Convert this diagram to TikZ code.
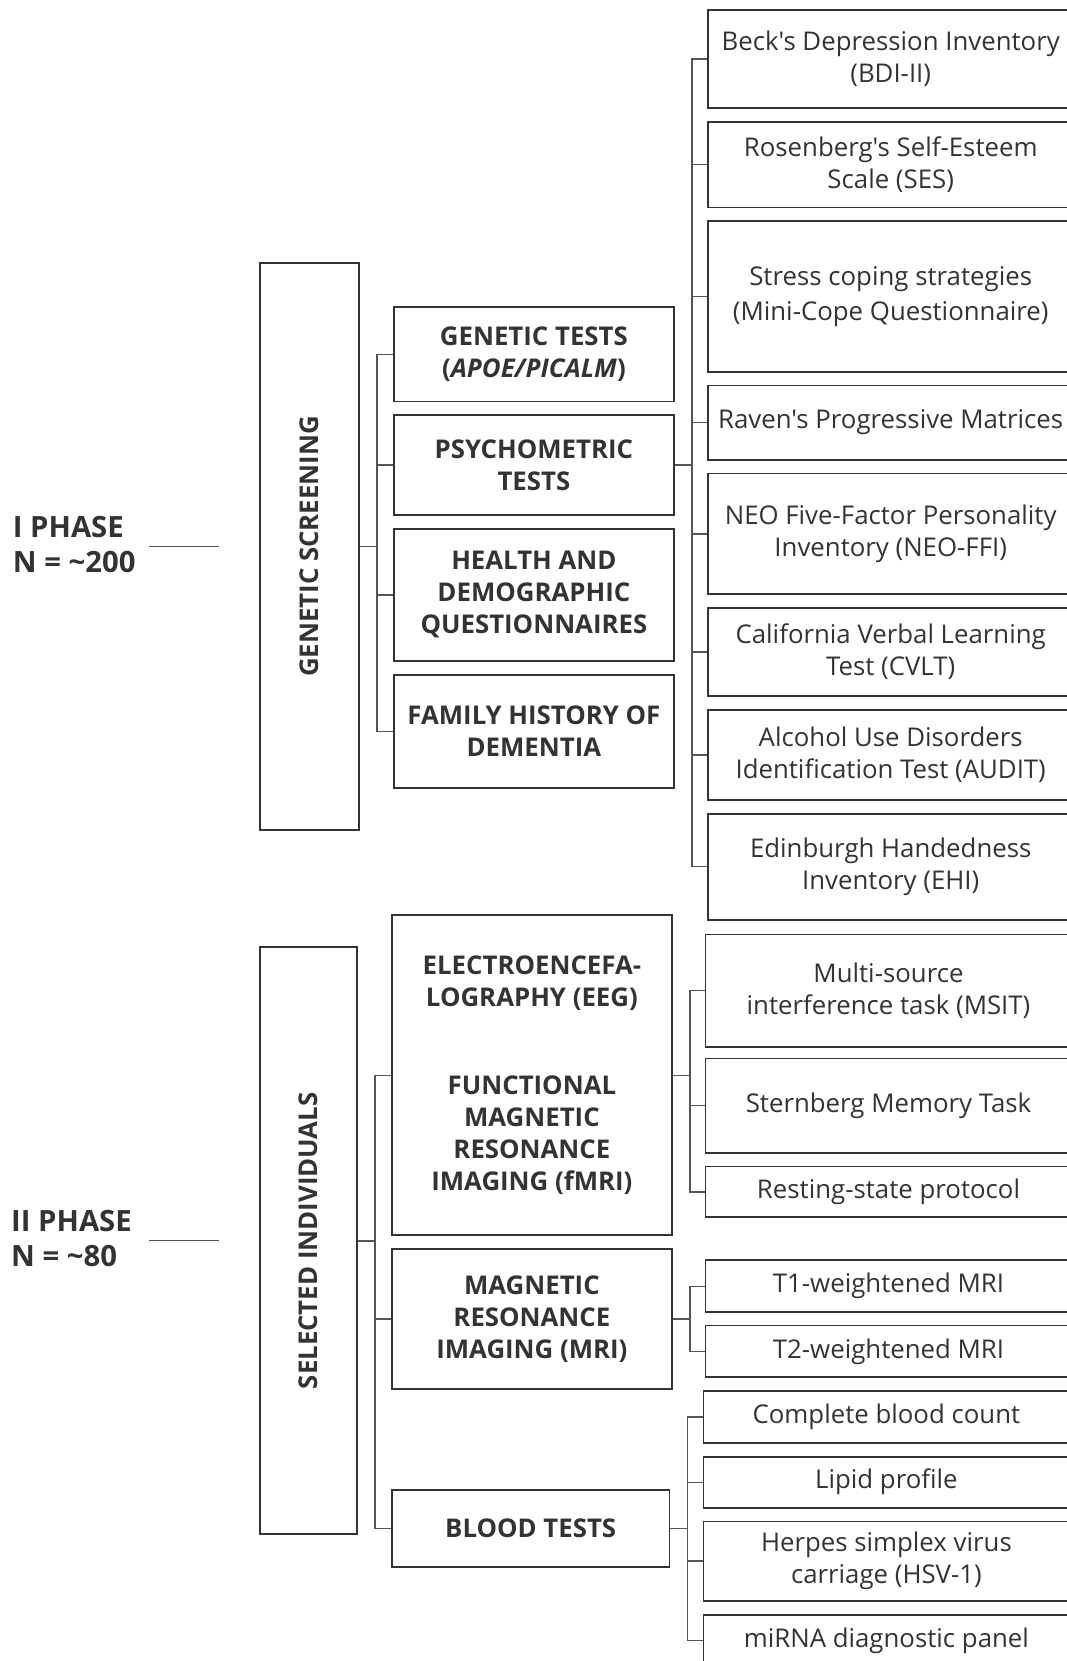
\documentclass[tikz,border=0pt]{standalone}
\usepackage{fontspec}
\newfontfamily\osans{Open Sans}
\usetikzlibrary{positioning}
\definecolor{ink}{HTML}{333333}
\definecolor{wire}{HTML}{555555}
\tikzset{
  box/.style={draw=ink, line width=1.8pt, text=ink, align=center, inner sep=0pt, anchor=north west},
  bigbox/.style={draw=ink, line width=1.8pt, inner sep=0pt},
  headbox/.style={box, minimum width=280pt, font=\osans\bfseries\fontsize{25.8}{32}\selectfont},
  testbox/.style={box, minimum width=366pt, font=\osans\fontsize{25.8}{32}\selectfont},
  sidetext/.style={text=ink, font=\osans\bfseries\fontsize{25.8}{32}\selectfont},
  phase/.style={text=ink, align=left, anchor=west, inner sep=0pt, font=\osans\bfseries\fontsize{29.3}{35}\selectfont},
  conn/.style={draw=wire, line width=1.4pt},
  tie/.style={draw=wire, line width=1.2pt},
}
\begin{document}
\begin{tikzpicture}[x=1pt,y=-1pt]
\useasboundingbox (0,0) rectangle (1066,1661);
% phase I
\node[phase] (ph1) at (12.7,544.5) {I PHASE\\N = \textasciitilde200};
\node[bigbox, minimum width=99pt, minimum height=567pt] (gs) at (309.5,546.5) {};
\node[sidetext, rotate=90] (gstext) at (gs.center) {GENETIC SCREENING};
\node[headbox, minimum height=94.3pt] (gen) at (393,306.2) {GENETIC TESTS\\(\textit{APOE/PICALM})};
\node[headbox, minimum height=99.6pt] (psy) at (393,414.3) {PSYCHOMETRIC\\TESTS};
\node[headbox, minimum height=132.4pt] (hea) at (393,527.7) {HEALTH AND\\DEMOGRAPHIC\\QUESTIONNAIRES};
\node[headbox, minimum height=113.4pt] (fam) at (393,673.9) {FAMILY HISTORY OF\\DEMENTIA};
\node[testbox, minimum height=97.5pt] (bdi) at (706.8,9.5) {Beck's Depression Inventory\\(BDI-II)};
\node[testbox, minimum height=85.8pt] (ses) at (706.8,120.8) {Rosenberg's Self-Esteem\\Scale (SES)};
\node[testbox, minimum height=150.5pt] (str) at (706.8,220.4) {Stress coping strategies\\[3pt](Mini-Cope Questionnaire)};
\node[testbox, minimum height=74.2pt] (rav) at (706.8,384.6) {Raven's Progressive Matrices};
\node[testbox, minimum height=120.8pt] (neo) at (706.8,472.6) {NEO Five-Factor Personality\\Inventory (NEO-FFI)};
\node[testbox, minimum height=88pt] (cvl) at (706.8,607.1) {California Verbal Learning\\Test (CVLT)};
\node[testbox, minimum height=90pt] (aud) at (706.8,708.9) {Alcohol Use Disorders\\Identification Test (AUDIT)};
\node[testbox, minimum height=106pt] (ehi) at (706.8,812.7) {Edinburgh Handedness\\Inventory (EHI)};
\draw[tie] ([xshift=-40pt]gs.west) -- ++(-70,0);
\draw[conn] (gs.east) -- ++(17,0) coordinate (b1);
\draw[conn] (gen.west) -| (b1) |- (fam.west);
\foreach \n in {psy,hea}
  \draw[conn] (b1 |- \n.west) -- (\n.west);
\draw[conn] (psy.east) -- ++(17,0) coordinate (b2);
\draw[conn] (bdi.west) -| (b2) |- (ehi.west);
\foreach \n in {ses,str,rav,neo,cvl,aud}
  \draw[conn] (b2 |- \n.west) -- (\n.west);
% phase II
\node[phase] (ph2) at (11,1238.7) {II PHASE\\N = \textasciitilde80};
\node[bigbox, minimum width=97.5pt, minimum height=587pt] (si) at (308.4,1240.8) {};
\node[sidetext, rotate=90] (sitext) at (si.center) {SELECTED INDIVIDUALS};
\node[headbox, minimum height=320pt] (eeg) at (391,914.4) {ELECTROENCEFA-\\LOGRAPHY (EEG)\\[56pt]FUNCTIONAL\\MAGNETIC\\RESONANCE\\IMAGING (fMRI)};
\node[headbox, minimum height=139.9pt] (mri) at (391,1248.2) {MAGNETIC\\RESONANCE\\IMAGING (MRI)};
\node[headbox, minimum width=277.6pt, minimum height=77.4pt] (bld) at (391,1488.7) {BLOOD TESTS};
\node[testbox, minimum height=112.3pt] (msi) at (704.6,933.5) {Multi-source\\interference task (MSIT)};
\node[testbox, minimum height=94.3pt] (ste) at (704.6,1057.5) {Sternberg Memory Task};
\node[testbox, minimum height=50.8pt] (res) at (704.6,1165.6) {Resting-state protocol};
\node[testbox, minimum height=51.9pt] (tone) at (704.6,1259.4) {T1-weightened MRI};
\node[testbox, minimum height=51.9pt] (ttwo) at (704.6,1324.5) {T2-weightened MRI};
\node[testbox, minimum height=52pt] (cbc) at (702.5,1390.2) {Complete blood count};
\node[testbox, minimum height=50.8pt] (lip) at (702.5,1455.9) {Lipid profile};
\node[testbox, minimum height=79.5pt] (hsv) at (702.5,1520.5) {Herpes simplex virus\\carriage (HSV-1)};
\node[testbox, minimum height=52pt] (mir) at (702.5,1613.8) {miRNA diagnostic panel};
\draw[tie] ([xshift=-40pt]si.west) -- ++(-70,0);
\draw[conn] (si.east) -- ++(17,0) coordinate (b3);
\draw[conn] (eeg.west) -| (b3) |- (bld.west);
\draw[conn] (b3 |- mri.west) -- (mri.west);
\draw[conn] (eeg.east) -- ++(17,0) coordinate (b4);
\draw[conn] (msi.west) -| (b4) |- (res.west);
\draw[conn] (b4 |- ste.west) -- (ste.west);
\draw[conn] (mri.east) -- ++(17,0) coordinate (b5);
\draw[conn] (tone.west) -| (b5) |- (ttwo.west);
\draw[conn] (bld.east) -- ++(17,0) coordinate (b6);
\draw[conn] (cbc.west) -| (b6) |- (mir.west);
\foreach \n in {lip,hsv}
  \draw[conn] (b6 |- \n.west) -- (\n.west);
\end{tikzpicture}
\end{document}
